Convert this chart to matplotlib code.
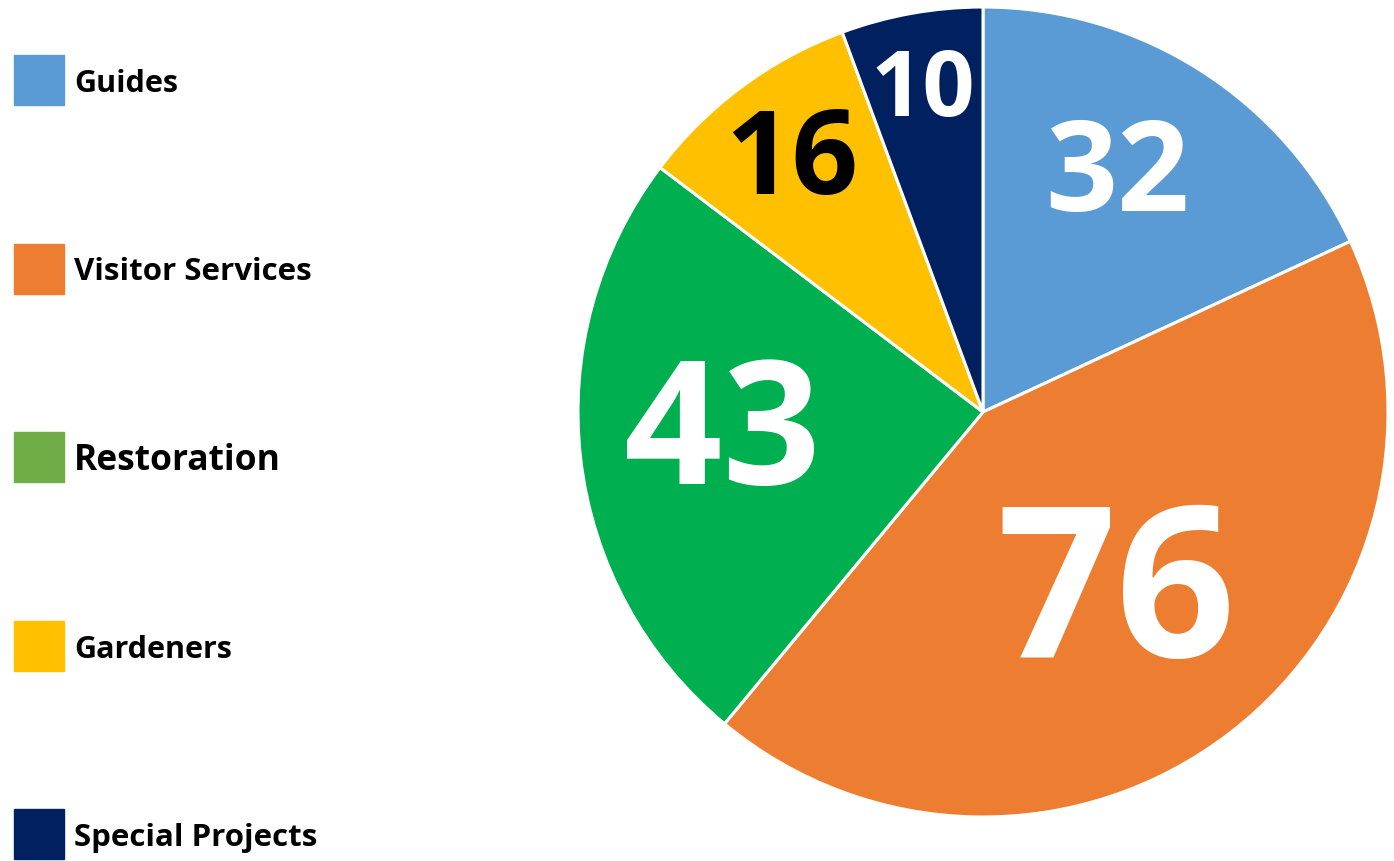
import matplotlib.pyplot as plt
from matplotlib.patches import Rectangle
import numpy as np

# data
categories = ["Guides", "Visitor Services", "Restoration", "Gardeners", "Special Projects"]
values = [32, 76, 43, 16, 10]

# styling
slice_colors = ["#5B9BD5", "#ED7D31", "#00B050", "#FFC000", "#002060"]
legend_colors = ["#5B9BD5", "#ED7D31", "#70AD47", "#FFC000", "#002060"]
label_colors = ["white", "white", "white", "black", "white"]
label_sizes = [91, 151, 124, 84, 66]
label_dist = [0.69, 0.53, 0.65, 0.79, 0.82]
label_nudge = [(-16, -2), (2, -20), (1, 3), (0, -8), (-2, -7)]  # pixels
legend_sizes = [22, 22.5, 25.5, 22, 22.5]

plt.rcParams["font.family"] = ["Open Sans", "DejaVu Sans"]

W, H = 1394, 861
fig = plt.figure(figsize=(W / 100, H / 100), dpi=100)

# pie axes: centre (983, 412) px, radius 405 px
cx, cy, r = 983, 412, 405
ax = fig.add_axes([(cx - r) / W, (H - cy - r) / H, 2 * r / W, 2 * r / H])
wedges, _ = ax.pie(values, colors=slice_colors, startangle=90, counterclock=False,
                   radius=1, wedgeprops=dict(edgecolor="white", linewidth=2.2))
ax.set_xlim(-1, 1)
ax.set_ylim(-1, 1)
ax.set_aspect("equal")
ax.axis("off")

for w, v, c, s, d, nd in zip(wedges, values, label_colors, label_sizes, label_dist, label_nudge):
    ang = np.deg2rad((w.theta1 + w.theta2) / 2)
    ax.annotate(str(v), (d * np.cos(ang), d * np.sin(ang)), xytext=nd,
                textcoords="offset pixels", color=c, fontsize=s,
                fontweight="bold", ha="center", va="center")

# legend drawn by hand on the left
for i, (name, col, fs) in enumerate(zip(categories, legend_colors, legend_sizes)):
    yc = 80 + i * 188.5
    fig.patches.append(Rectangle((14 / W, (H - yc - 25) / H), 50 / W, 50 / H,
                                 transform=fig.transFigure, color=col))
    fig.text(74 / W, (H - yc - 4) / H, name, fontsize=fs, fontweight="bold",
             ha="left", va="center", color="black")

fig.savefig("out.png", dpi=100)
